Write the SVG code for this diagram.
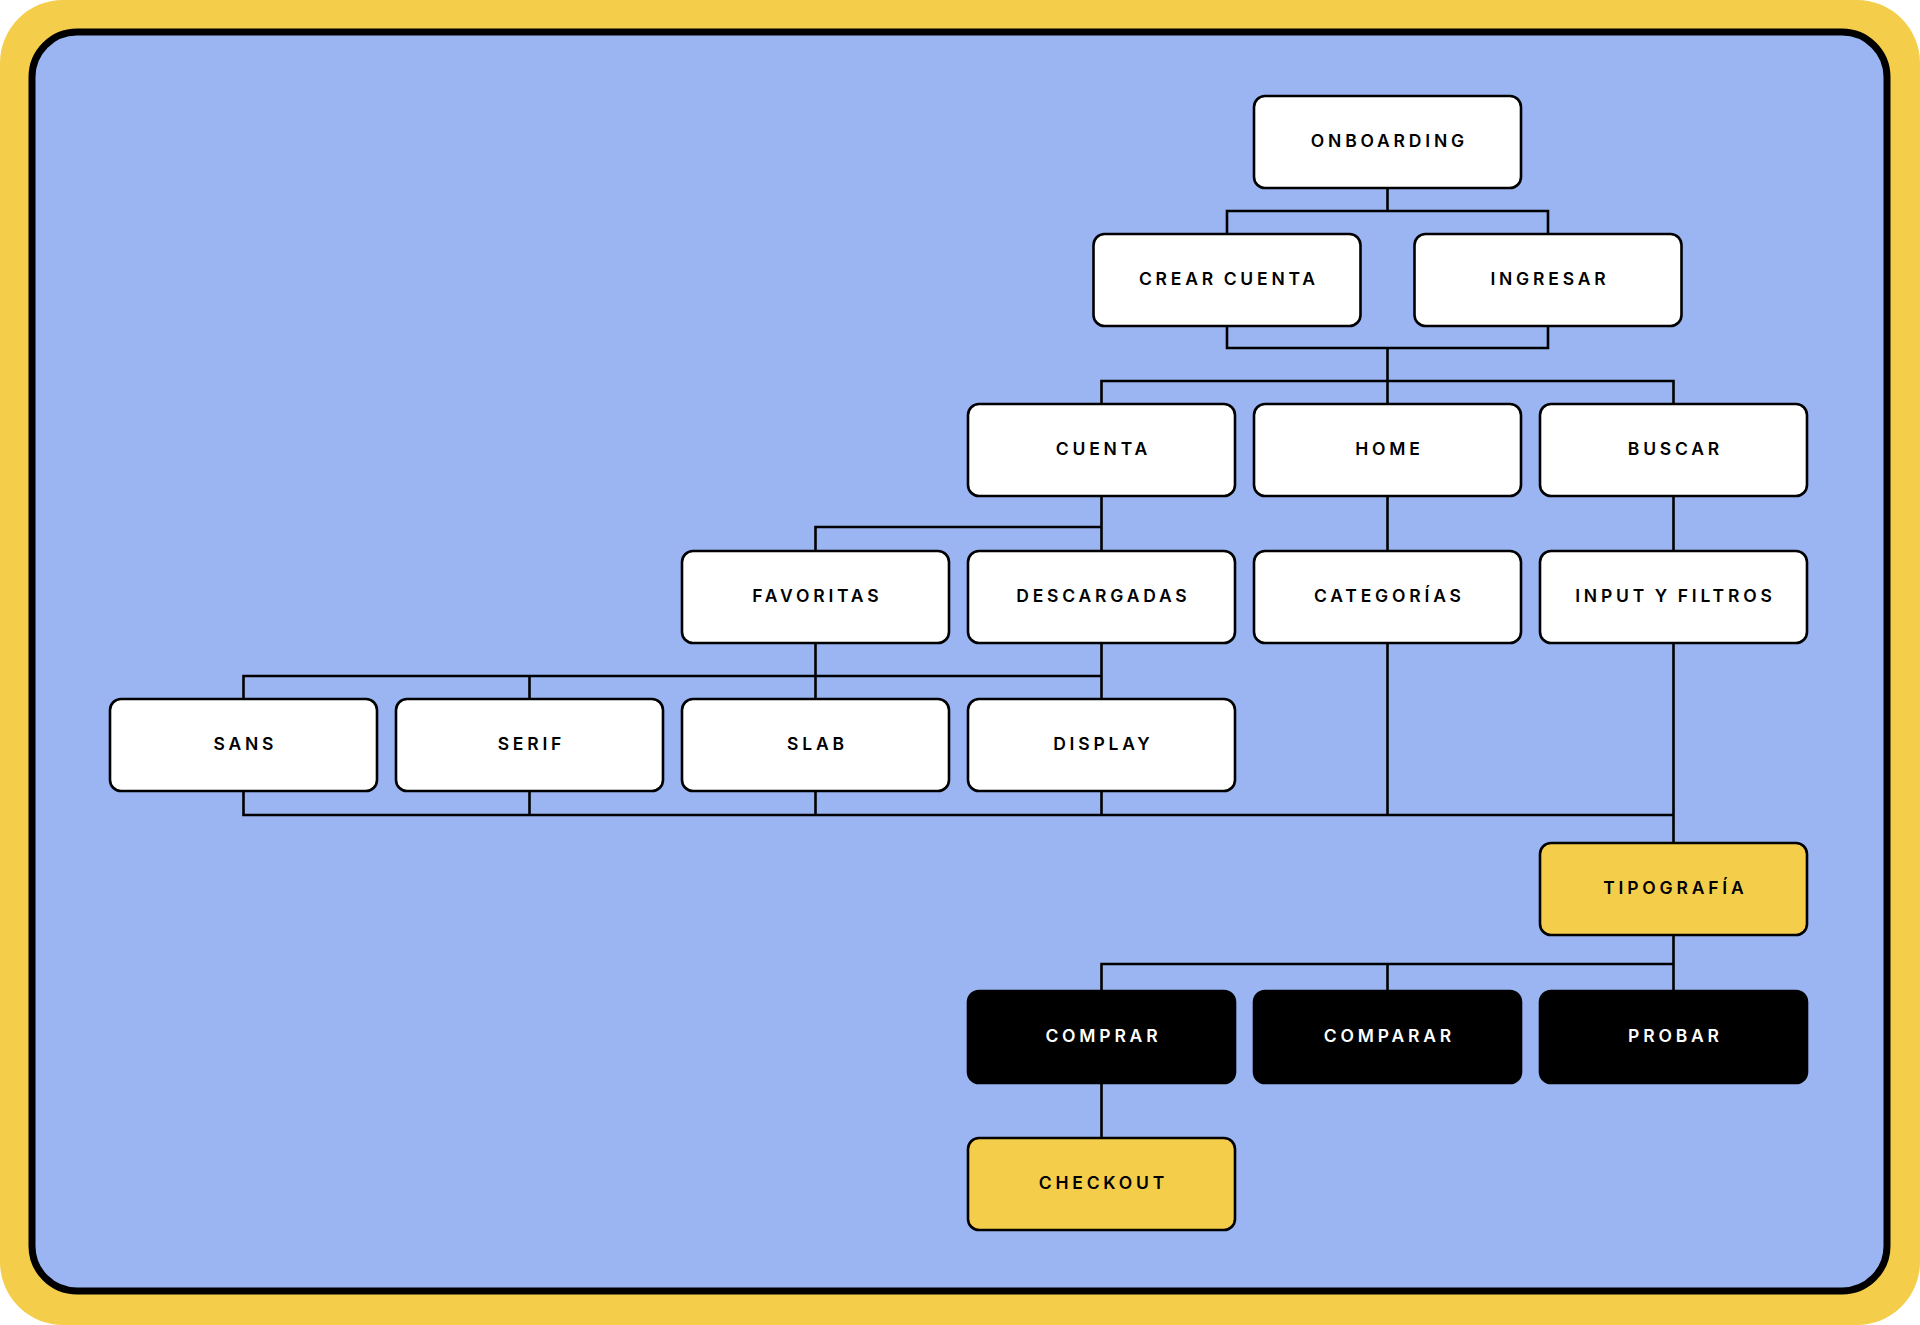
<svg xmlns="http://www.w3.org/2000/svg" width="1920" height="1325" viewBox="0 0 1920 1325">
<style>
.n rect{fill:#ffffff;stroke:#000;stroke-width:2.6}
.n.y rect{fill:#F4CE4B}
.n.k rect{fill:#000}
.n text{font-family:Inter,"Noto Sans","Liberation Sans",sans-serif;font-weight:600;font-size:17.5px;letter-spacing:3.8px;word-spacing:-1.5px;text-anchor:middle;fill:#000}
.n.k text{fill:#fff}
#connectors path{fill:none;stroke:#000;stroke-width:2.6;stroke-linejoin:miter}
</style>
<rect x="0" y="0" width="1920" height="1325" fill="#ffffff"/>
<rect x="0" y="0" width="1920" height="1325" rx="63" fill="#F4CE4B"/>
<rect x="32" y="32" width="1855" height="1259" rx="45" fill="#9AB5F2" stroke="#000" stroke-width="7"/>
<g id="connectors">
<path d="M1387.5 188V211M1227 234V211H1548V234"/>
<path d="M1227 326V348H1548V326M1387.5 348V404M1101.5 404V381H1673.5V404"/>
<path d="M1101.5 496V551M1101.5 527H815.5V551"/>
<path d="M1387.5 496V551M1673.5 496V551"/>
<path d="M815.5 643V699M1101.5 643V699M243.5 699V676H1101.5M529.5 676V699"/>
<path d="M243.5 791V815H1673.5M529.5 791V815M815.5 791V815M1101.5 791V815M1387.5 643V815M1673.5 643V843"/>
<path d="M1673.5 935V991M1101.5 991V964H1673.5M1387.5 964V991"/>
<path d="M1101.5 1083V1138"/>
</g>
<g id="onboarding" class="n"><rect x="1254" y="96" width="267" height="92" rx="11"/><text x="1389.4" y="147">ONBOARDING</text></g>
<g id="crear-cuenta" class="n"><rect x="1093.5" y="234" width="267" height="92" rx="11"/><text x="1228.9" y="285">CREAR CUENTA</text></g>
<g id="ingresar" class="n"><rect x="1414.5" y="234" width="267" height="92" rx="11"/><text x="1549.9" y="285">INGRESAR</text></g>
<g id="cuenta" class="n"><rect x="968" y="404" width="267" height="92" rx="11"/><text x="1103.4" y="455">CUENTA</text></g>
<g id="home" class="n"><rect x="1254" y="404" width="267" height="92" rx="11"/><text x="1389.4" y="455">HOME</text></g>
<g id="buscar" class="n"><rect x="1540" y="404" width="267" height="92" rx="11"/><text x="1675.4" y="455">BUSCAR</text></g>
<g id="favoritas" class="n"><rect x="682" y="551" width="267" height="92" rx="11"/><text x="817.4" y="602">FAVORITAS</text></g>
<g id="descargadas" class="n"><rect x="968" y="551" width="267" height="92" rx="11"/><text x="1103.4" y="602">DESCARGADAS</text></g>
<g id="categorias" class="n"><rect x="1254" y="551" width="267" height="92" rx="11"/><text x="1389.4" y="602">CATEGORÍAS</text></g>
<g id="input-filtros" class="n"><rect x="1540" y="551" width="267" height="92" rx="11"/><text x="1675.4" y="602">INPUT Y FILTROS</text></g>
<g id="sans" class="n"><rect x="110" y="699" width="267" height="92" rx="11"/><text x="245.4" y="750">SANS</text></g>
<g id="serif" class="n"><rect x="396" y="699" width="267" height="92" rx="11"/><text x="531.4" y="750">SERIF</text></g>
<g id="slab" class="n"><rect x="682" y="699" width="267" height="92" rx="11"/><text x="817.4" y="750">SLAB</text></g>
<g id="display" class="n"><rect x="968" y="699" width="267" height="92" rx="11"/><text x="1103.4" y="750">DISPLAY</text></g>
<g id="tipografia" class="n y"><rect x="1540" y="843" width="267" height="92" rx="11"/><text x="1675.4" y="894">TIPOGRAFÍA</text></g>
<g id="comprar" class="n k"><rect x="968" y="991" width="267" height="92" rx="11"/><text x="1103.4" y="1042">COMPRAR</text></g>
<g id="comparar" class="n k"><rect x="1254" y="991" width="267" height="92" rx="11"/><text x="1389.4" y="1042">COMPARAR</text></g>
<g id="probar" class="n k"><rect x="1540" y="991" width="267" height="92" rx="11"/><text x="1675.4" y="1042">PROBAR</text></g>
<g id="checkout" class="n y"><rect x="968" y="1138" width="267" height="92" rx="11"/><text x="1103.4" y="1189">CHECKOUT</text></g>
</svg>
